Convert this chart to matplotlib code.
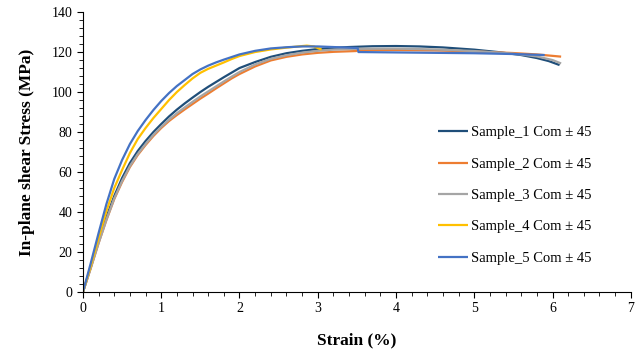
import numpy as np
import matplotlib.pyplot as plt
from matplotlib.ticker import MultipleLocator

plt.rcParams['font.family'] = ['Liberation Serif', 'DejaVu Serif']

# strain (%) / stress (MPa)
s1_strain = [0, 0.1, 0.2, 0.3, 0.4, 0.5, 0.6, 0.7, 0.8, 0.9, 1.0, 1.1, 1.2, 1.3, 1.4, 1.5, 1.6, 1.7, 1.8,
             1.9, 2.0, 2.2, 2.4, 2.6, 2.8, 3.0, 3.2, 3.4, 3.7, 4.0, 4.3, 4.6, 5.0, 5.3, 5.6, 5.8, 5.95, 6.09]
s1_stress = [0, 12.5, 25.5, 37.5, 48, 57, 64.5, 70.5, 75.5, 80, 84, 87.8, 91.2, 94.3, 97.2, 100, 102.6, 105, 107.4,
             109.7, 112, 115, 117.6, 119.4, 120.6, 121.5, 122.1, 122.5, 122.9, 123, 122.8, 122.3, 121.2, 120, 118.5, 117, 115.5, 113.5]

s2_strain = [0, 0.1, 0.2, 0.3, 0.4, 0.5, 0.6, 0.7, 0.8, 0.9, 1.0, 1.1, 1.2, 1.3, 1.4, 1.5, 1.6, 1.7, 1.8,
             1.9, 2.0, 2.2, 2.4, 2.6, 2.8, 3.0, 3.2, 3.49, 3.52, 4.0, 4.5, 5.0, 5.5, 5.8, 6.11]
s2_stress = [0, 12, 24.5, 36, 46.5, 55, 62.5, 68.5, 73.5, 78, 82, 85.5, 88.5, 91.3, 94, 96.7, 99.2, 101.8, 104.3,
             106.8, 109, 112.8, 115.8, 117.6, 118.8, 119.6, 120.1, 120.5, 121, 121, 120.8, 120.3, 119.5, 118.8, 117.7]

s3_strain = [0, 0.1, 0.2, 0.3, 0.4, 0.5, 0.6, 0.7, 0.8, 0.9, 1.0, 1.1, 1.2, 1.3, 1.4, 1.5, 1.6, 1.7, 1.8,
             1.9, 2.0, 2.2, 2.4, 2.6, 2.8, 3.0, 3.2, 3.5, 4.0, 4.5, 5.0, 5.5, 5.8, 6.0, 6.11]
s3_stress = [0, 12, 24.5, 36.2, 46.8, 55.5, 63, 69, 74, 78.6, 82.6, 86.2, 89.4, 92.3, 95.1, 97.8, 100.3, 102.8, 105.3,
             107.7, 110, 113.8, 116.6, 118.4, 119.7, 120.6, 121.2, 121.6, 121.7, 121.3, 120.5, 119.2, 117.8, 116, 114.3]

s4_strain = [0, 0.1, 0.2, 0.3, 0.4, 0.5, 0.6, 0.7, 0.8, 0.9, 1.0, 1.1, 1.2, 1.3, 1.4, 1.5, 1.6, 1.7, 1.8,
             1.9, 2.0, 2.2, 2.4, 2.6, 2.75, 2.86, 2.95, 3.05]
s4_stress = [0, 13, 27, 40.5, 52, 61, 69.5, 76.5, 82, 87, 91.5, 96, 100, 103.5, 106.8, 109.6, 111.6, 113.2, 114.8,
             116.5, 118, 120, 121.3, 122.2, 122.8, 123.2, 122.8, 121.2]

s5_strain = [0, 0.1, 0.2, 0.3, 0.4, 0.5, 0.6, 0.7, 0.8, 0.9, 1.0, 1.1, 1.2, 1.3, 1.4, 1.5, 1.6, 1.7, 1.8,
             2.0, 2.2, 2.4, 2.6, 2.8, 3.0, 3.2, 3.51, 3.52, 4.0, 4.5, 5.0, 5.5, 5.9]
s5_stress = [0, 14.5, 29.5, 44, 56.5, 66, 74, 80.5, 86, 91, 95.5, 99.5, 103, 106, 109, 111.3, 113.2, 114.8, 116.2,
             118.8, 120.6, 121.8, 122.4, 122.8, 122.8, 122.5, 122, 120, 119.8, 119.6, 119.4, 119, 118.5]

labels = ['Sample_1 Com \u00b1 45', 'Sample_2 Com \u00b1 45', 'Sample_3 Com \u00b1 45',
          'Sample_4 Com \u00b1 45', 'Sample_5 Com \u00b1 45']
colors = ['#1F4E79', '#ED7D31', '#A5A5A5', '#FFC000', '#4472C4']

fig = plt.figure(figsize=(6.43, 3.54), dpi=100)
ax = fig.add_axes([0.129, 0.175, 0.852, 0.791])

series = [(s1_strain, s1_stress), (s2_strain, s2_stress), (s3_strain, s3_stress),
          (s4_strain, s4_stress), (s5_strain, s5_stress)]
for (x, y), lab, c in zip(series, labels, colors):
    ax.plot(x, y, color=c, lw=1.6, label=lab, solid_capstyle='butt', solid_joinstyle='round')

ax.set_xlim(0, 7)
ax.set_ylim(0, 140)
ax.xaxis.set_major_locator(MultipleLocator(1))
ax.xaxis.set_minor_locator(MultipleLocator(0.2))
ax.yaxis.set_major_locator(MultipleLocator(20))
ax.yaxis.set_minor_locator(MultipleLocator(4))
ax.tick_params(which='both', direction='out', labelsize=10, color='black')
ax.tick_params(which='major', length=4)
ax.tick_params(which='minor', length=3)
for sp in ['top', 'right']:
    ax.spines[sp].set_visible(False)

ax.set_xlabel('Strain (%)', fontsize=12.5, fontweight='bold', labelpad=12)
ax.set_ylabel('In-plane shear Stress (MPa)', fontsize=12.5, fontweight='bold', labelpad=12)

ax.legend(loc='upper left', bbox_to_anchor=(0.625, 0.64), frameon=False, fontsize=10.5,
          labelspacing=1.25, handlelength=2.05, handletextpad=0.2)

fig.savefig('out.png', dpi=100)
